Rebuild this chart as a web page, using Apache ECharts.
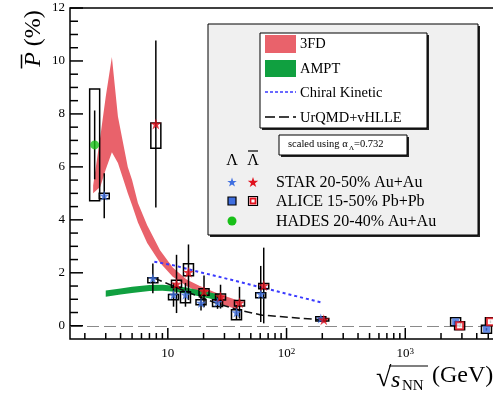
<!DOCTYPE html>
<html>
<head>
<meta charset="utf-8">
<script src="https://cdn.jsdelivr.net/npm/echarts@6/dist/echarts.min.js"></script>
<style>
  html, body { margin: 0; padding: 0; background: #fff; }
  #chart { width: 493px; height: 396px; }
</style>
</head>
<body>
<div id="chart"></div>
<script>
// ---- Global Lambda polarization vs collision energy (values in %) ----

// STAR 20-50% Au+Au, Lambda
const starE            = [3, 7.7, 11.5, 14.5, 19.6, 27, 39, 62.4, 200];
const starLambda       = [4.91, 1.79, 1.17, 1.17, 0.86, 0.89, 0.50, 1.20, 0.27];
const starLambdaStat   = [0.85, 0.56, 0.45, 0.45, 0.28, 0.25, 0.28, 1.06, 0.05];
const starLambdaSysLo  = [4.80, 1.62, 0.98, 0.87, 0.79, 0.73, 0.23, 1.06, 0.18];
const starLambdaSysHi  = [5.00, 1.81, 1.18, 1.28, 0.98, 0.98, 0.60, 1.25, 0.34];

// STAR 20-50% Au+Au, anti-Lambda
const starAntiE        = [7.7, 11.5, 14.5, 19.6, 27, 39, 62.4, 200];
const starAnti         = [7.62, 1.58, 2.02, 1.30, 1.10, 0.87, 1.52, 0.23];
const starAntiStat     = [3.15, 1.10, 1.05, 0.60, 0.45, 0.60, 1.43, 0.05];
const starAntiSysLo    = [6.70, 1.45, 1.89, 1.15, 0.97, 0.75, 1.40, 0.18];
const starAntiSysHi    = [7.66, 1.72, 2.34, 1.40, 1.20, 0.95, 1.60, 0.27];

// ALICE 15-50% Pb+Pb
const aliceE           = [2760, 5020];
const aliceLambda      = [0.15, -0.13];
const aliceAnti        = [0.00, 0.15];
const aliceStat        = [0.05, 0.05];
const aliceSys         = [0.15, 0.15];

// HADES 20-40% Au+Au
const hadesE           = [2.42];
const hadesLambda      = [6.83];
const hadesStat        = [1.30];
const hadesSysLo       = [4.72];
const hadesSysHi       = [8.94];

// 3FD band
const fdE  = [2.35, 2.7, 3.0, 3.38, 3.8, 4.2, 4.6, 5.0, 5.6, 6.7, 8.6, 11, 14.4, 18.6, 27, 39];
const fdLo = [5.00, 5.25, 5.90, 6.55, 6.15, 5.55, 5.00, 4.55, 3.90, 3.13, 2.38, 1.85, 1.50, 1.25, 0.85, 0.60];
const fdHi = [5.30, 7.15, 8.65, 10.15, 7.90, 6.90, 6.00, 5.50, 4.64, 3.80, 2.85, 2.20, 1.75, 1.50, 1.20, 0.95];

// AMPT band
const amptE  = [3.0, 4.0, 5.0, 7.0, 9.0, 11.5, 14.5, 19.6, 27];
const amptLo = [1.10, 1.18, 1.24, 1.31, 1.32, 1.28, 1.21, 1.09, 0.95];
const amptHi = [1.33, 1.41, 1.47, 1.54, 1.55, 1.51, 1.44, 1.32, 1.18];

// Chiral Kinetic
const ckE = [7.7, 11.5, 14.5, 19.6, 27, 39, 62.4, 200];
const ckP = [2.42, 2.27, 2.15, 2.00, 1.85, 1.67, 1.44, 0.87];

// UrQMD+vHLLE
const urE = [7.7, 11.5, 14.5, 19.6, 27, 39, 62.4, 200];
const urP = [1.80, 1.47, 1.28, 1.05, 0.82, 0.60, 0.40, 0.22];

// Axis ticks
const yLabels    = [0, 2, 4, 6, 8, 10, 12];
const yMinor     = [0.5, 1, 1.5, 2.5, 3, 3.5, 4.5, 5, 5.5, 6.5, 7, 7.5, 8.5, 9, 9.5, 10.5, 11, 11.5];
const xMajor     = [10, 100, 1000];
const xMinor     = [2, 3, 4, 5, 6, 7, 8, 9, 20, 30, 40, 50, 60, 70, 80, 90,
                    200, 300, 400, 500, 600, 700, 800, 900, 2000, 3000, 4000, 5000, 6000, 7000, 8000, 9000];

// ---- styling ----
const SERIF = 'Liberation Serif, Times New Roman, serif';
const BLUE = '#3f6fe0';
const RED = '#e0101c';
const GREEN = '#18c018';
const X_MIN = 1.5, X_MAX = 10000;
const Y_MIN = -0.5, Y_MAX = 12;
const STAR = 'M50,0 L61.17,34.63 L97.55,34.55 L68.07,55.87 L79.39,90.45 L50,69 L20.61,90.45 L31.93,55.87 L2.45,34.55 L38.83,34.63 Z';

function band(E, lo, hi, color, z) {
  return {
    type: 'custom', silent: true, z: z,
    data: [[E[0], lo[0]]],
    renderItem: function (params, api) {
      const pts = [];
      for (let i = 0; i < E.length; i++) pts.push(api.coord([E[i], hi[i]]));
      for (let i = E.length - 1; i >= 0; i--) pts.push(api.coord([E[i], lo[i]]));
      return { type: 'polygon', shape: { points: pts }, style: { fill: color } };
    }
  };
}

function errors(E, v, stat, sysLo, sysHi, dx, z) {
  return {
    type: 'custom', silent: true, z: z,
    data: E.map((e, i) => [e, v[i], stat[i], sysLo[i], sysHi[i]]),
    renderItem: function (params, api) {
      const e = api.value(0), val = api.value(1), s = api.value(2);
      const top = api.coord([e, val + s]);
      const bot = api.coord([e, val - s]);
      const bHi = api.coord([e, api.value(4)]);
      const bLo = api.coord([e, api.value(3)]);
      const x = top[0] + dx;
      return {
        type: 'group',
        children: [
          { type: 'line', shape: { x1: x, y1: top[1], x2: x, y2: bot[1] },
            style: { stroke: '#000', lineWidth: 1.5 } },
          { type: 'rect', shape: { x: x - 5, y: bHi[1], width: 10, height: Math.max(bLo[1] - bHi[1], 1) },
            style: { fill: 'none', stroke: '#000', lineWidth: 1.5 } }
        ]
      };
    }
  };
}

function markers(E, v, symbol, size, dx, style, z) {
  return {
    type: 'scatter', silent: true, z: z,
    symbol: symbol, symbolSize: size, symbolOffset: [dx, 0],
    data: E.map((e, i) => [e, v[i]]),
    itemStyle: style
  };
}

const series = [
  // zero reference line
  {
    type: 'line', silent: true, data: [], z: 1,
    markLine: {
      silent: true, symbol: 'none', label: { show: false },
      lineStyle: { color: '#8a8a8a', type: [12, 5], width: 1.2 },
      data: [{ yAxis: 0 }]
    }
  },
  band(fdE, fdLo, fdHi, '#e9626b', 2),
  band(amptE, amptLo, amptHi, '#10a040', 3),
  {
    type: 'line', silent: true, z: 4, symbol: 'none',
    data: ckE.map((e, i) => [e, ckP[i]]),
    lineStyle: { color: '#3a3aff', width: 2, type: [3, 3] }
  },
  {
    type: 'line', silent: true, z: 4, symbol: 'none',
    data: urE.map((e, i) => [e, urP[i]]),
    lineStyle: { color: '#111', width: 1.5, type: [8, 4] }
  },
  errors(hadesE, hadesLambda, hadesStat, hadesSysLo, hadesSysHi, 0, 5),
  errors(starE, starLambda, starLambdaStat, starLambdaSysLo, starLambdaSysHi, -1.5, 5),
  errors(starAntiE, starAnti, starAntiStat, starAntiSysLo, starAntiSysHi, 1.5, 5),
  errors(aliceE, aliceLambda, aliceStat,
         aliceLambda.map((v, i) => v - aliceSys[i]), aliceLambda.map((v, i) => v + aliceSys[i]), -2, 5),
  errors(aliceE, aliceAnti, aliceStat,
         aliceAnti.map((v, i) => v - aliceSys[i]), aliceAnti.map((v, i) => v + aliceSys[i]), 2, 5),
  markers(hadesE, hadesLambda, 'circle', 9, 0, { color: GREEN }, 6),
  markers(starE, starLambda, 'path://' + STAR, 10, -1.5, { color: BLUE }, 6),
  markers(starAntiE, starAnti, 'path://' + STAR, 11, 1.5, { color: RED }, 7),
  markers(aliceE, aliceLambda, 'rect', 7, -2, { color: BLUE }, 6),
  markers(aliceE, aliceAnti, 'rect', 7, 2, { color: '#fff', borderColor: RED, borderWidth: 2 }, 7)
];

// ---- legend and titles drawn as graphics ----
function starShape(cx, cy, s, color) {
  const pts = [];
  for (let k = 0; k < 10; k++) {
    const r = (k % 2 === 0 ? 0.5 : 0.19) * s;
    const a = -Math.PI / 2 + k * Math.PI / 5;
    pts.push([cx + r * Math.cos(a), cy + 0.05 * s + r * Math.sin(a)]);
  }
  return { type: 'polygon', z: 20, shape: { points: pts }, style: { fill: color } };
}
function txt(x, y, text, size, extra) {
  return { type: 'text', x: x, y: y, z: 20,
    style: Object.assign({ text: text, font: size + 'px ' + SERIF, fill: '#000',
                           verticalAlign: 'middle', align: 'left' }, (extra || {})) };
}

const graphics = [
  // outer legend frame with shadow
  { type: 'rect', z: 10, shape: { x: 210, y: 26, width: 270, height: 211 }, style: { fill: '#222' } },
  { type: 'rect', z: 11, shape: { x: 208, y: 24, width: 270, height: 211 }, style: { fill: '#f0f0f0', stroke: '#000', lineWidth: 1 } },
  // inner model box
  { type: 'rect', z: 12, shape: { x: 262, y: 35, width: 167, height: 95 }, style: { fill: '#222' } },
  { type: 'rect', z: 13, shape: { x: 260, y: 33, width: 167, height: 95 }, style: { fill: '#fff', stroke: '#000', lineWidth: 1 } },
  { type: 'rect', z: 14, shape: { x: 265, y: 35, width: 31, height: 18 }, style: { fill: '#e9626b' } },
  { type: 'rect', z: 14, shape: { x: 265, y: 60, width: 31, height: 17 }, style: { fill: '#10a040' } },
  { type: 'line', z: 14, shape: { x1: 265, y1: 92, x2: 296, y2: 92 }, style: { stroke: '#3a3aff', lineWidth: 1.5, lineDash: [3, 2] } },
  { type: 'line', z: 14, shape: { x1: 265, y1: 117, x2: 296, y2: 117 }, style: { stroke: '#000', lineWidth: 1.5, lineDash: [10, 4] } },
  txt(300, 44, '3FD', 14.5),
  txt(300, 69, 'AMPT', 14.5),
  txt(300, 93, 'Chiral Kinetic', 14.5),
  txt(300, 118, 'UrQMD+vHLLE', 14.5),
  // alpha scaling note
  { type: 'rect', z: 12, shape: { x: 281, y: 137, width: 128, height: 20 }, style: { fill: '#222' } },
  { type: 'rect', z: 13, shape: { x: 279, y: 135, width: 128, height: 20 }, style: { fill: '#fff', stroke: '#000', lineWidth: 1 } },
  txt(288, 144, 'scaled using α', 10.5),
  txt(349, 148, 'Λ', 7),
  txt(354, 144, '=0.732', 10.5),
  // data legend
  txt(232, 161, 'Λ', 16, { align: 'center' }),
  txt(253, 161, 'Λ', 16, { align: 'center' }),
  { type: 'line', z: 20, shape: { x1: 248, y1: 151, x2: 258, y2: 151 }, style: { stroke: '#000', lineWidth: 1.2 } },
  starShape(232, 182, 10, BLUE),
  starShape(253, 182, 11, RED),
  { type: 'rect', z: 20, shape: { x: 228, y: 197, width: 8, height: 8 }, style: { fill: BLUE, stroke: '#000', lineWidth: 1.2 } },
  { type: 'rect', z: 20, shape: { x: 248.5, y: 196.5, width: 9, height: 9 }, style: { fill: '#fff', stroke: '#000', lineWidth: 1.2 } },
  { type: 'rect', z: 21, shape: { x: 250.5, y: 198.5, width: 5, height: 5 }, style: { fill: '#fff', stroke: RED, lineWidth: 1.8 } },
  { type: 'circle', z: 20, shape: { cx: 232, cy: 221, r: 4.5 }, style: { fill: GREEN } },
  txt(276, 183, 'STAR 20-50% Au+Au', 16),
  txt(276, 202, 'ALICE 15-50% Pb+Pb', 16),
  txt(276, 222, 'HADES 20-40% Au+Au', 16),
  // y axis title
  {
    type: 'group', x: 33.5, y: 38.5, rotation: Math.PI / 2, z: 20,
    children: [
      { type: 'text', z: 20, style: { text: '{i|P} (%)', font: '24px ' + SERIF, fill: '#000', align: 'center', verticalAlign: 'middle',
          rich: { i: { fontStyle: 'italic', fontSize: 24, fontFamily: SERIF } } } },
      { type: 'line', z: 20, shape: { x1: -30, y1: -12, x2: -16, y2: -12 }, style: { stroke: '#000', lineWidth: 1.5 } }
    ]
  },
  // x axis title
  txt(376, 379, '√', 28),
  { type: 'line', z: 20, shape: { x1: 389, y1: 366, x2: 428, y2: 366 }, style: { stroke: '#000', lineWidth: 1.2 } },
  txt(391, 381, 's', 24, { font: 'italic 24px ' + SERIF }),
  txt(402, 386, 'NN', 15),
  txt(432, 376, '(GeV)', 24)
];

const chart = echarts.init(document.getElementById('chart'), null, { renderer: 'canvas' });
chart.setOption({
  animation: false,
  backgroundColor: '#fff',
  grid: { left: 70, top: 8, width: 454, height: 331, show: true, borderColor: '#000', borderWidth: 1.5,
          backgroundColor: 'transparent', containLabel: false, outerBoundsMode: 'none' },
  xAxis: [
    { type: 'log', min: X_MIN, max: X_MAX, show: false, position: 'bottom', axisLine: { onZero: false } },
    {
      // decade labels 10, 10^2, 10^3 on a log10 companion axis
      type: 'value', min: Math.log10(X_MIN), max: Math.log10(X_MAX), position: 'bottom',
      axisLine: { show: false, onZero: false }, axisTick: { show: false }, splitLine: { show: false },
      axisLabel: {
        show: true, customValues: xMajor.map(Math.log10), margin: 8, color: '#000',
        formatter: function (v) { const n = Math.round(v); return n === 1 ? '{b|10}' : '{b|10}{s|' + n + '}'; },
        rich: { b: { fontSize: 13, fontFamily: SERIF, color: '#000' },
                s: { fontSize: 9, fontFamily: SERIF, color: '#000', verticalAlign: 'top' } }
      }
    }
  ],
  yAxis: [
    {
      type: 'value', min: Y_MIN, max: Y_MAX, position: 'left',
      axisLine: { show: false, onZero: false }, axisTick: { show: false }, splitLine: { show: false },
      axisLabel: { show: true, customValues: yLabels, margin: 5, color: '#000', fontSize: 13, fontFamily: SERIF }
    }
  ],
  series: series,
  graphic: graphics
});

// inward frame ticks, positioned by converting tick values through the chart's own axes
const finder = { xAxisIndex: 0, yAxisIndex: 0 };
const tickEls = [];
function addXTicks(vals, len) {
  vals.forEach(v => {
    const p = chart.convertToPixel(finder, [v, Y_MIN]);
    if (p) tickEls.push({ type: 'line', z: 9, shape: { x1: p[0], y1: p[1], x2: p[0], y2: p[1] - len },
                          style: { stroke: '#000', lineWidth: 1.5 } });
  });
}
function addYTicks(vals, len) {
  vals.forEach(v => {
    const p = chart.convertToPixel(finder, [X_MIN, v]);
    if (p) tickEls.push({ type: 'line', z: 9, shape: { x1: p[0], y1: p[1], x2: p[0] + len, y2: p[1] },
                          style: { stroke: '#000', lineWidth: 1.5 } });
  });
}
addXTicks(xMajor, 11);
addXTicks(xMinor, 6);
addYTicks(yLabels, 13);
addYTicks(yMinor, 8);
chart.setOption({ graphic: graphics.concat(tickEls) });
</script>
</body>
</html>
